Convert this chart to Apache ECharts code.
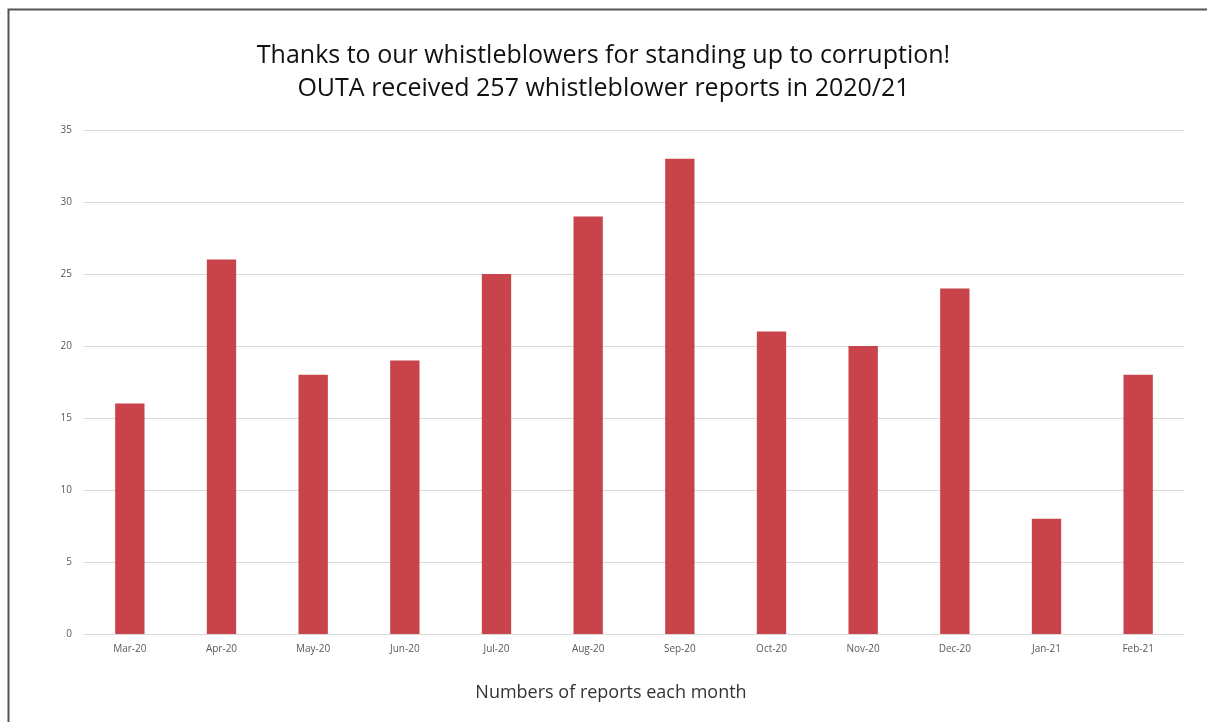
<!DOCTYPE html>
<html><head><meta charset="utf-8">
<script src="https://cdn.jsdelivr.net/npm/echarts@6/dist/echarts.min.js"></script>
<style>html,body{margin:0;padding:0;background:#fff}#c{width:1207px;height:722px}</style>
</head><body><div id="c"></div>
<script>
const months = ['Mar-20','Apr-20','May-20','Jun-20','Jul-20','Aug-20','Sep-20','Oct-20','Nov-20','Dec-20','Jan-21','Feb-21'];
const reports = [16,26,18,19,25,29,33,21,20,24,8,18];
const yTicks = {min:0, max:35, interval:5};
const titleLines = ['Thanks to our whistleblowers for standing up to corruption!','OUTA received 257 whistleblower reports in 2020/21'];
const xAxisTitle = 'Numbers of reports each month';

const chart = echarts.init(document.getElementById('c'));
chart.setOption({
  backgroundColor:'#fff',
  animation:false,
  graphic:[{type:'rect',shape:{x:8.5,y:9.5,width:1220,height:730},style:{fill:'none',stroke:'#555',lineWidth:2},silent:true}],
  title:{text:titleLines.join('\n'),left:'center',top:34,textStyle:{fontFamily:'Open Sans',fontWeight:'normal',fontSize:25,color:'#111',lineHeight:33}},
  grid:{left:84,right:23,top:130,bottom:88},
  xAxis:{type:'category',data:months,name:xAxisTitle,nameLocation:'middle',nameGap:50,
    nameTextStyle:{fontFamily:'Open Sans',fontSize:18,color:'#333',padding:[0,46,0,0]},
    axisLine:{lineStyle:{color:'#d9d9d9',width:1}},axisTick:{show:false},
    axisLabel:{fontFamily:'Open Sans',fontSize:10,color:'#595959',margin:10}},
  yAxis:{type:'value',min:yTicks.min,max:yTicks.max,interval:yTicks.interval,
    axisLine:{show:false},axisTick:{show:false},
    axisLabel:{fontFamily:'Open Sans',fontSize:10,color:'#595959',margin:12},
    splitLine:{lineStyle:{color:'#d9d9d9',width:1}}},
  series:[{type:'bar',data:reports,barWidth:'32%',itemStyle:{color:'#c8434a'}}]
});
</script></body></html>
